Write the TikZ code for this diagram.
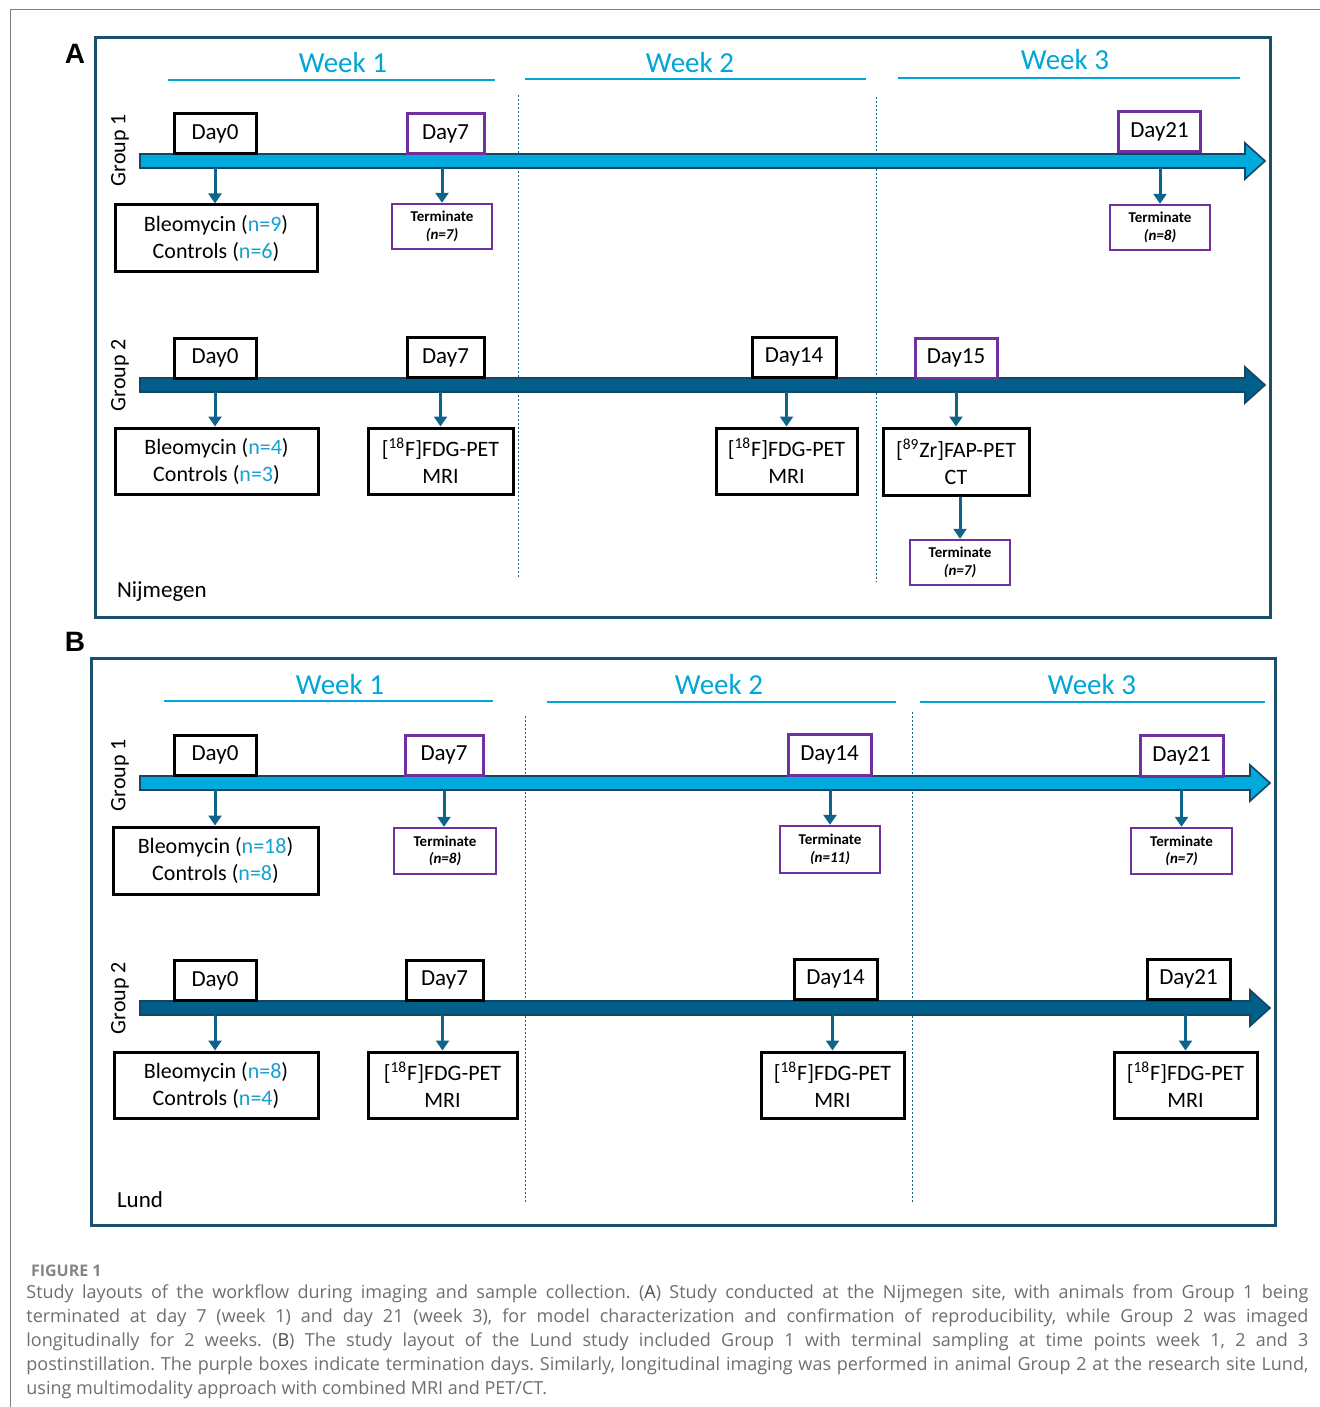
\documentclass[tikz,border=0pt]{standalone}
\usepackage{fontspec}
\setmainfont{Carlito}
\newfontfamily\capfont{Open Sans}
\newfontfamily\panelfont{Liberation Sans}
\usetikzlibrary{arrows.meta,positioning}

\definecolor{weekblue}{RGB}{0,166,214}
\definecolor{lineone}{RGB}{0,170,220}
\definecolor{linetwo}{RGB}{0,96,138}
\definecolor{edgeblue}{RGB}{20,70,100}
\definecolor{arrowblue}{RGB}{15,100,140}
\definecolor{panelblue}{RGB}{24,80,110}
\definecolor{purp}{RGB}{112,48,160}
\definecolor{nblue}{RGB}{20,160,210}
\definecolor{capgray}{RGB}{110,110,110}
\newcommand{\nval}[1]{\textcolor{nblue}{#1}}

\begin{document}
\begin{tikzpicture}[x=0.5pt,y=-0.5pt,
  daybox/.style={draw=black,line width=1.5pt,minimum width=41pt,minimum height=20pt,inner sep=0pt,font=\fontsize{11.5}{13}\selectfont},
  termday/.style={daybox,draw=purp},
  infobox/.style={draw=black,line width=1.5pt,align=center,inner sep=0pt,font=\fontsize{11}{13.5}\selectfont},
  termbox/.style={draw=purp,line width=1.2pt,align=center,inner sep=0pt,minimum width=50pt,minimum height=22.5pt,font=\fontsize{7.5}{8.8}\selectfont\bfseries},
  week/.style={text=weekblue,font=\fontsize{14.5}{16}\selectfont},
  wline/.style={weekblue,line width=1.3pt},
  divider/.style={arrowblue,line width=0.5pt,dash pattern=on 1pt off 1pt},
  panel/.style={draw=panelblue,line width=1.5pt},
  grp/.style={rotate=90,font=\fontsize{11}{13}\selectfont},
  dn/.style={-{Triangle[width=6.5pt,length=5pt]},line width=1.5pt,draw=arrowblue}]
\useasboundingbox (0,0) rectangle (1320,1407);

% page frame
\draw[gray,line width=0.5pt] (1320,10) -- (10,10) -- (10,1407);

% ---------------- panel A
\draw[panel] (95,38) rectangle (1270,617);
\node[font=\panelfont\fontsize{14}{16}\selectfont\bfseries] (labA) at (75,54) {A};
\node[week] (w1a) at (343,63) {Week 1};
\node[week] (w2a) at (690,63) {Week 2};
\node[week] (w3a) at (1065,60) {Week 3};
\draw[wline] (168,80) -- (495,80);
\draw[wline] (525,79) -- (866,79);
\draw[wline] (898,78) -- (1240,78);
\draw[divider] (518,95) -- (518,578);
\draw[divider] (876,97) -- (876,582);

% ---------------- panel B
\draw[panel] (91,658) rectangle (1275,1225);
\node[font=\panelfont\fontsize{14}{16}\selectfont\bfseries] (labB) at (75,642) {B};
\node[week] (w1b) at (340,685) {Week 1};
\node[week] (w2b) at (719,685) {Week 2};
\node[week] (w3b) at (1092,685) {Week 3};
\draw[wline] (164,701) -- (493,701);
\draw[wline] (547,702) -- (896,702);
\draw[wline] (920,702) -- (1265,702);
\draw[divider] (525,716) -- (525,1203);
\draw[divider] (912,712) -- (912,1203);

% time lines
\foreach \y/\xe/\fc in {161/1265/lineone,385/1265/linetwo,783/1270/lineone,1008/1270/linetwo}
  \draw[edgeblue,line width=0.8pt,fill=\fc] (140,\y-7) -- (\xe-20,\y-7) -- (\xe-20,\y-18)
    -- (\xe,\y) -- (\xe-20,\y+18) -- (\xe-20,\y+7) -- (140,\y+7) -- cycle;
\coordinate (barA1) at (0,168);
\coordinate (barA2) at (0,392);
\coordinate (barB1) at (0,790);
\coordinate (barB2) at (0,1015);

\node[grp] (gA1) at (120,150) {Group 1};
\node[grp] (gA2) at (120,375) {Group 2};
\node[grp] (gB1) at (120,775) {Group 1};
\node[grp] (gB2) at (120,998) {Group 2};
\node[anchor=west,font=\fontsize{11.5}{13}\selectfont] (siteA) at (110,592) {Nijmegen};
\node[anchor=west,font=\fontsize{11.5}{13}\selectfont] (siteB) at (110,1200) {Lund};

% Nijmegen, group 1
\node[daybox] (d0a) at (215,133.5) {Day0};
\node[termday,minimum width=38.5pt] (d7a) at (445.5,133.5) {Day7};
\node[termday] (d21a) at (1159.5,132) {Day21};
\node[infobox,minimum width=101pt,minimum height=33pt] (bleo1a) at (216,238)
  {Bleomycin (\nval{n=9})\\Controls (\nval{n=6})};
\node[termbox] (term7a) at (442,226.5) {Terminate\\\itshape(n=7)};
\node[termbox] (term21a) at (1160,227.5) {Terminate\\\itshape(n=8)};
\draw[dn] (d0a.south |- barA1) -- (d0a.south |- bleo1a.north);
\draw[dn] (term7a.north |- barA1) -- (term7a.north);
\draw[dn] (term21a.north |- barA1) -- (term21a.north);

% Nijmegen, group 2
\node[daybox] (d0b) at (215,358) {Day0};
\node[daybox,minimum width=38.5pt] (d7b) at (445.5,357.5) {Day7};
\node[daybox,minimum width=42pt] (d14b) at (794,357) {Day14};
\node[termday] (d15b) at (956,358) {Day15};
\node[infobox,minimum width=101.5pt,minimum height=33pt] (bleo2b) at (216.5,461)
  {Bleomycin (\nval{n=4})\\Controls (\nval{n=3})};
\node[infobox,minimum width=72.5pt,minimum height=33pt] (fdg7b) at (440.5,461)
  {[\textsuperscript{18}F]FDG-PET\\MRI};
\node[infobox,minimum width=70.5pt,minimum height=33pt] (fdg14b) at (786.5,461)
  {[\textsuperscript{18}F]FDG-PET\\MRI};
\node[infobox,minimum width=73pt,minimum height=33.5pt] (zrb) at (956,461.5)
  {[\textsuperscript{89}Zr]FAP-PET\\CT};
\node[termbox] (term15b) at (960,562.5) {Terminate\\\itshape(n=7)};
\draw[dn] (d0b.south |- barA2) -- (d0b.south |- bleo2b.north);
\draw[dn] (fdg7b.north |- barA2) -- (fdg7b.north);
\draw[dn] (fdg14b.north |- barA2) -- (fdg14b.north);
\draw[dn] (zrb.north |- barA2) -- (zrb.north);
\draw[dn] (term15b.north |- zrb.south) -- (term15b.north);

% Lund, group 1
\node[daybox] (d0c) at (215,755) {Day0};
\node[termday,minimum width=39pt] (d7c) at (444,755) {Day7};
\node[termday,minimum width=41.5pt,minimum height=20.5pt] (d14c) at (829.5,754.5) {Day14};
\node[termday,minimum width=41.5pt,minimum height=20.5pt] (d21c) at (1181.5,755.5) {Day21};
\node[infobox,minimum width=102.5pt,minimum height=33.5pt] (bleo1c) at (215.5,860.5)
  {Bleomycin (\nval{n=18})\\Controls (\nval{n=8})};
\node[termbox,minimum width=51pt,minimum height=23pt] (term7c) at (445,851) {Terminate\\\itshape(n=8)};
\node[termbox,minimum height=23.5pt] (term14c) at (830,849.5) {Terminate\\\itshape(n=11)};
\node[termbox,minimum width=50.5pt,minimum height=23pt] (term21c) at (1181.5,851) {Terminate\\\itshape(n=7)};
\draw[dn] (d0c.south |- barB1) -- (d0c.south |- bleo1c.north);
\draw[dn] (d7c.south |- barB1) -- (d7c.south |- term7c.north);
\draw[dn] (term14c.north |- barB1) -- (term14c.north);
\draw[dn] (term21c.north |- barB1) -- (term21c.north);

% Lund, group 2
\node[daybox] (d0d) at (215,980.5) {Day0};
\node[daybox,minimum width=38.5pt] (d7d) at (444.5,980) {Day7};
\node[daybox,minimum width=41.5pt] (d14d) at (835.5,979) {Day14};
\node[daybox,minimum width=41.5pt] (d21d) at (1188.5,979) {Day21};
\node[infobox,minimum width=102pt,minimum height=33pt] (bleo2d) at (216,1085)
  {Bleomycin (\nval{n=8})\\Controls (\nval{n=4})};
\node[infobox,minimum width=74.5pt,minimum height=33pt] (fdg7d) at (442.5,1085)
  {[\textsuperscript{18}F]FDG-PET\\MRI};
\node[infobox,minimum width=71.5pt,minimum height=33pt] (fdg14d) at (832.5,1085)
  {[\textsuperscript{18}F]FDG-PET\\MRI};
\node[infobox,minimum width=71.5pt,minimum height=33pt] (fdg21d) at (1185.5,1085)
  {[\textsuperscript{18}F]FDG-PET\\MRI};
\draw[dn] (d0d.south |- barB2) -- (d0d.south |- bleo2d.north);
\draw[dn] (fdg7d.north |- barB2) -- (fdg7d.north);
\draw[dn] (fdg14d.north |- barB2) -- (fdg14d.north);
\draw[dn] (fdg21d.north |- barB2) -- (fdg21d.north);

% caption
\node[anchor=west,text=capgray!85,font=\capfont\fontsize{8}{9}\selectfont\bfseries] (fig) at (24,1271) {FIGURE 1};
\node[anchor=north west,inner sep=0pt,text width=641pt,align=justify,text=capgray,
  font=\capfont\fontsize{9}{12}\selectfont\frenchspacing] (cap) at (26,1284)
  {Study layouts of the workflow during imaging and sample collection. (\textcolor{black!70}{A}) Study conducted at the Nijmegen site, with animals from Group 1 being\linebreak
  terminated at day 7 (week 1) and day 21 (week 3), for model characterization and confirmation of reproducibility, while Group 2 was imaged\linebreak
  longitudinally for 2 weeks. (\textcolor{black!70}{B}) The study layout of the Lund study included Group 1 with terminal sampling at time points week 1, 2 and 3\linebreak
  postinstillation. The purple boxes indicate termination days. Similarly, longitudinal imaging was performed in animal Group 2 at the research site Lund,\linebreak
  using multimodality approach with combined MRI and PET/CT.};
\end{tikzpicture}
\end{document}
